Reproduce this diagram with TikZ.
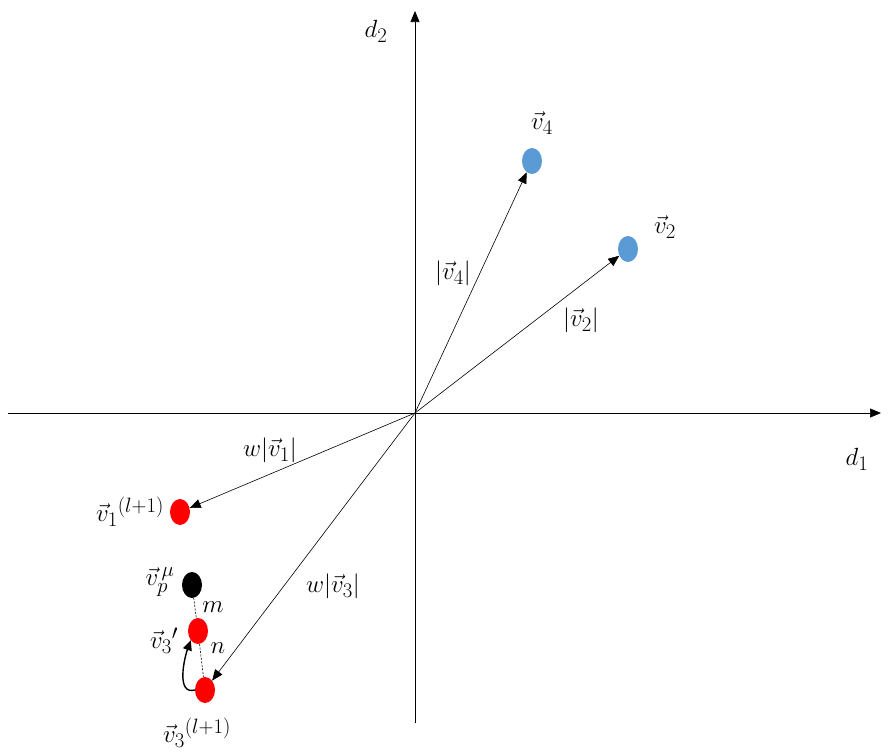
\documentclass[tikz,border=0pt]{standalone}
\usetikzlibrary{arrows.meta,shapes.geometric}
\definecolor{dotblue}{HTML}{5B9BD5}
\begin{document}
\begin{tikzpicture}[x=1pt,y=-1pt,
  dot/.style={ellipse,minimum width=20pt,minimum height=26pt,inner sep=0pt},
  vec/.style={-{Triangle[length=11pt,width=9pt]},line width=0.6pt},
  lbl/.style={font=\Huge,inner sep=1pt}]
\useasboundingbox (0,0) rectangle (891,753);
% axes
\coordinate (O) at (415,413);
\coordinate (xl) at (8,413);
\coordinate (xr) at (881,413);
\coordinate (yb) at (415,723);
\coordinate (yt) at (415,11);
\draw[vec] (xl) -- (xr);
\draw[vec] (yb) -- (yt);
\node[lbl] (d2) at (376,31) {$d_2$};
\node[lbl] (d1) at (857,459) {$d_1$};
% dots
\node[dot,fill=dotblue] (v4) at (532,161) {};
\node[dot,fill=dotblue] (v2) at (628,249) {};
\node[dot,fill=red] (v1) at (180,512) {};
\node[dot,fill=black] (vp) at (192,585) {};
\node[dot,fill=red] (v3p) at (198,631) {};
\node[dot,fill=red] (v3) at (205,690) {};
% vectors
\draw[vec] (O) -- (v4);
\draw[vec] (O) -- (v2);
\draw[vec] (O) -- (v1);
\draw[vec] (O) -- (v3);
% dashed
\draw[line width=0.6pt,dash pattern=on 2pt off 1.5pt] (vp) -- (v3p);
\draw[line width=0.6pt,dash pattern=on 2pt off 1.5pt] (v3p) -- (v3);
% curved arrow
\draw[-{Triangle[length=10pt,width=9pt]},line width=1.4pt] (v3.west) to[out=195,in=250] (v3p.south west);
% labels
\node[lbl] (lv4) at (542,123) {$\vec{v}_4$};
\node[lbl] (lv2) at (665,227) {$\vec{v}_2$};
\node[lbl] (n4) at (453,273) {$|\vec{v}_4|$};
\node[lbl] (n2) at (581,320) {$|\vec{v}_2|$};
\node[lbl] (n1) at (270,450) {$w|\vec{v}_1|$};
\node[lbl] (n3) at (333,586) {$w|\vec{v}_3|$};
\node[lbl] (lv1) at (130,512) {$\vec{v}_1{}^{(l+1)}$};
\node[lbl] (lvp) at (160,582) {$\vec{v}_p^{\,\mu}$};
\node[lbl] (lm) at (213,607) {$m$};
\node[lbl] (ln) at (218,648) {$n$};
\node[lbl] (lv3p) at (164,641) {$\vec{v}_3{}'$};
\node[lbl] (lv3) at (197,733) {$\vec{v}_3{}^{(l+1)}$};
\end{tikzpicture}
\end{document}
